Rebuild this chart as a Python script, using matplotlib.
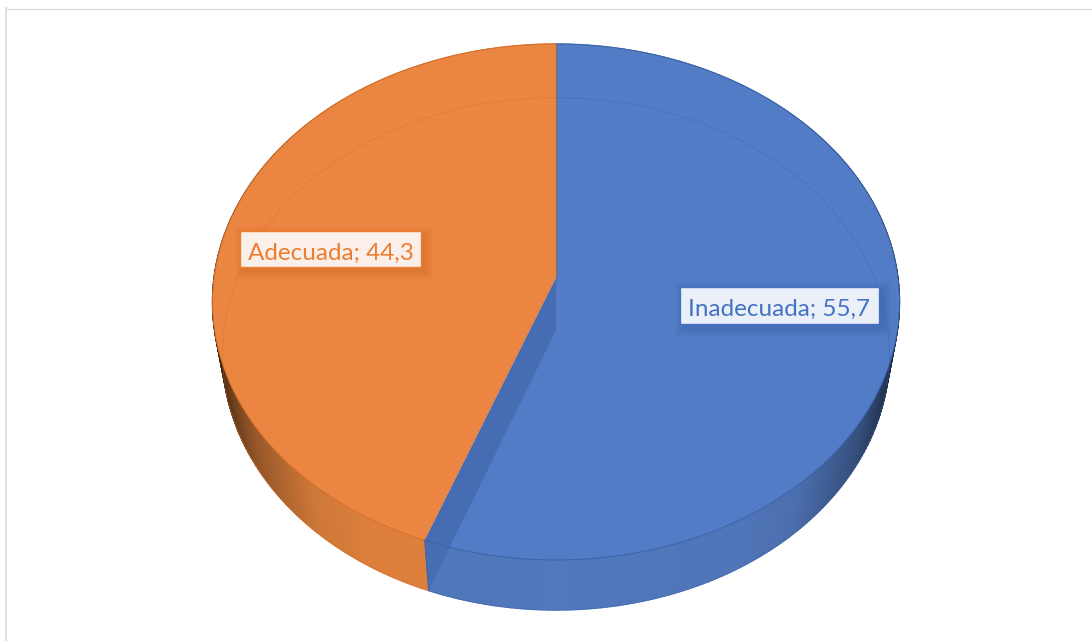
#!/usr/bin/env python3
# -*- coding: utf-8 -*-
import numpy as np
import matplotlib
matplotlib.use('Agg')
import matplotlib.pyplot as plt
from matplotlib.collections import PolyCollection
from matplotlib.patches import Polygon, Rectangle

# <------------------------------ Datos ------------------------------------->
categorias = ['Inadecuada', 'Adecuada']
valores = [55.7, 44.3]

# colores por porcion: cara superior, lateral, borde, texto
color_cara = ['#527DC6', '#EB8642']
color_lado = [(0.32, 0.47, 0.74), (0.88, 0.51, 0.24)]
color_borde = ['#3C62A8', '#D56E28']
color_texto = ['#4472C4', '#ED7D31']
color_caja = ['#EBF0F8', '#FAF0E9']
color_sombra = ['#2F5597', '#C55A11']
centro_caja = [(779, 305), (330.5, 249)]
tam_caja = [(199, 37), (181, 36)]

# disco en perspectiva (pixeles): tapa y base
CX = 556
K = -0.093
TAPA = dict(a=342, apice=278, p=229.9)
BASE = dict(a=332, apice=330, p=223.3)


def proyectar(theta, disco):
    '''theta en grados, horario desde las 12. Devuelve x, y en pixeles.'''
    t = np.radians(theta)
    u, v = np.sin(t), -np.cos(t)
    d = 1 + K * v
    return CX + disco['a'] * u / d, (disco['apice'] + disco['p'] * v) / d


def borde(t0, t1, disco, n=200):
    x, y = proyectar(np.linspace(t0, t1, n), disco)
    return np.column_stack([x, y])


def sombreado(t):
    # el lateral se oscurece hacia los extremos del disco
    u = np.abs(np.sin(np.radians(t)))
    return np.interp(u, [0, 0.5, 0.66, 0.85, 0.95, 1], [1, 0.98, 0.92, 0.66, 0.42, 0.25])


fig = plt.figure(figsize=(10.92, 6.41), dpi=100)
ax = fig.add_axes([0, 0, 1, 1])
ax.set_xlim(0, 1092)
ax.set_ylim(641, 0)
ax.axis('off')

# marco del grafico (solo arriba e izquierda)
ax.plot([6, 1092], [8.5, 8.5], color='#D9D9D9', lw=0.8)
ax.plot([5.5, 5.5], [8, 641], color='#E0E0E0', lw=1.5)

# angulos de cada porcion
fin = np.cumsum(valores) / np.sum(valores) * 360
ini = np.concatenate([[0], fin[:-1]])

# <----------------------------- Lateral ------------------------------------>
for i in range(len(valores)):
    ts = np.linspace(ini[i], fin[i], 240)
    arriba = borde(ini[i], fin[i], TAPA, 240)
    abajo = borde(ini[i], fin[i], BASE, 240)
    # fondo liso para que no queden rendijas entre los tramos
    ax.add_patch(Polygon(np.vstack([arriba, abajo[::-1]]), closed=True, facecolor=color_lado[i],
                         edgecolor='none', zorder=1.5))
    quads, cols = [], []
    for j in range(len(ts) - 1):
        quads.append([arriba[j], arriba[j + 1], abajo[j + 1], abajo[j]])
        cols.append(tuple(np.array(color_lado[i]) * sombreado(ts[j])))
    ax.add_collection(PolyCollection(quads, facecolors=cols, edgecolors=cols, linewidths=1.0, zorder=2))

# <------------------------------ Tapa -------------------------------------->
for i in range(len(valores)):
    puntos = np.vstack([[CX, TAPA['apice']], borde(ini[i], fin[i], TAPA)])
    ax.add_patch(Polygon(puntos, closed=True, facecolor=color_cara[i], edgecolor='none', zorder=3))
    rim = borde(ini[i], fin[i], TAPA)
    ax.plot(rim[:, 0], rim[:, 1], color=color_borde[i], lw=0.7, zorder=5)
    # la base se ve a traves de la tapa
    fondo = borde(ini[i], fin[i], BASE)
    ax.plot(fondo[:, 0], fondo[:, 1], color=color_borde[i], lw=0.7, alpha=0.4, zorder=4)

# cara del corte, visible por transparencia
xa, ya = proyectar(fin[0], TAPA)
xb, yb = proyectar(fin[0], BASE)
corte = [(CX, TAPA['apice']), (CX, BASE['apice']), (xb, yb), (xa, ya)]
ax.add_patch(Polygon(corte, closed=True, facecolor='#466CB2', edgecolor='none', zorder=4))
ax.plot([xa, xb], [ya, yb], color='#3C62A8', lw=0.7, zorder=5)
ax.plot([CX - 0.5, CX - 0.5], [proyectar(0, TAPA)[1], TAPA['apice']], color='#8A6A5A', lw=0.8, zorder=5)

# <----------------------------- Etiquetas ---------------------------------->
for i, cat in enumerate(categorias):
    cx, cy = centro_caja[i]
    w, h = tam_caja[i]
    # sombra difusa de la caja
    for g, a in zip([9, 7, 5, 3, 1], [0.05, 0.06, 0.07, 0.08, 0.09]):
        ax.add_patch(Rectangle((cx - w / 2 + 4 - g, cy - h / 2 + 4 - g), w + 2 * g, h + 2 * g,
                               facecolor=color_sombra[i], edgecolor='none', alpha=a, zorder=6))
    ax.add_patch(Rectangle((cx - w / 2, cy - h / 2), w, h, facecolor=color_caja[i],
                           edgecolor=color_texto[i], lw=1.0, zorder=7))
    rotulo = f'{cat}; {valores[i]:.1f}'.replace('.', ',')
    ax.text(cx, cy + 10.5, rotulo, color=color_texto[i], fontsize=17.5, family='Lato',
            ha='center', va='baseline', zorder=8)

fig.savefig('out.png', dpi=100)
